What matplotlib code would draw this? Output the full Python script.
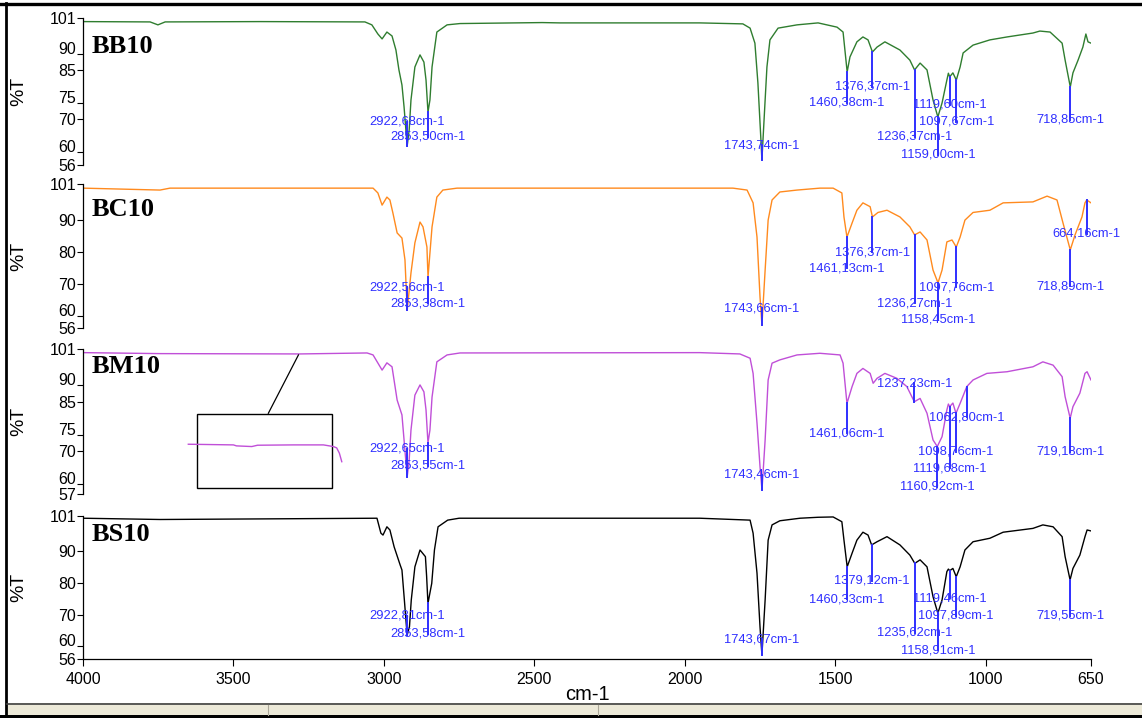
import numpy as np
import matplotlib
matplotlib.use("Agg")
import matplotlib.pyplot as plt
from matplotlib.lines import Line2D
from matplotlib.patches import Rectangle

W, H = 1142, 718

# ---- spectra (wavenumber cm-1, %T) ----
bb10_wn = [4000, 3777, 3751, 3727, 3412, 3063, 3040, 3020, 3006, 2990, 2973, 2960, 2950, 2940, 2933,
           2922.68, 2916, 2910, 2897, 2880, 2867, 2860, 2853.50, 2847, 2840, 2824, 2790, 2747, 2474, 2415,
           1950, 1807, 1783, 1767, 1757, 1747, 1743.74, 1733, 1727, 1717, 1690, 1627, 1557, 1494, 1474,
           1460.38, 1451, 1428, 1408, 1391, 1376.37, 1361, 1335, 1285, 1252, 1236.37, 1218, 1195, 1175,
           1159.00, 1145, 1129, 1124, 1119.60, 1109, 1097.67, 1085, 1075, 1042, 986, 929, 843, 820, 786,
           746, 736, 718.85, 710, 693, 677, 667, 660, 650]
bb10_t = [99.9, 99.8, 98.9, 99.8, 99.9, 99.8, 98.9, 96.1, 94.6, 96.7, 95.5, 91.2, 85.1, 80.5, 73.8,
          61.8, 66.7, 75.9, 86.0, 89.7, 87.5, 82.0, 72.2, 75.9, 86.0, 96.7, 98.9, 99.3, 99.6, 99.5,
          99.5, 99.2, 97.9, 93.3, 81.1, 63.7, 57.5, 75.9, 86.0, 94.3, 97.9, 98.9, 99.5, 98.2, 96.7,
          84.5, 89.1, 93.7, 95.2, 94.3, 90.6, 92.1, 93.7, 91.2, 88.1, 85.1, 87.2, 85.1, 75.9,
          70.7, 75.0, 82.0, 84.1, 83.0, 84.2, 82.0, 86.0, 90.3, 92.7, 94.3, 95.2, 96.4, 97.0, 96.7,
          93.3, 88.1, 79.9, 84.2, 88.1, 92.1, 96.1, 93.7, 93.3]

bc10_wn = [4000, 3744, 3711, 3036, 3020, 3006, 2990, 2980, 2970, 2956, 2940, 2930, 2922.56, 2910, 2897,
           2880, 2870, 2857, 2853.38, 2840, 2824, 2804, 2757, 1840, 1793, 1773, 1760, 1750, 1743.66, 1733,
           1723, 1710, 1684, 1627, 1551, 1507, 1478, 1471, 1461.13, 1444, 1428, 1408, 1384, 1376.37,
           1358, 1328, 1285, 1252, 1236.27, 1218, 1195, 1175, 1158.45, 1145, 1129, 1112, 1097.76, 1085,
           1069, 1042, 986, 942, 843, 796, 763, 743, 718.89, 703, 680, 670, 664.16, 650]
bc10_t = [99.8, 99.2, 99.8, 99.8, 98.3, 94.5, 97.0, 96.1, 92.0, 85.8, 84.2, 77.4, 61.7, 73.3, 82.7,
          89.2, 87.7, 81.4, 72.0, 87.7, 97.0, 99.2, 99.8, 99.8, 99.2, 95.2, 84.5, 65.8, 57.0, 74.2,
          89.8, 96.1, 98.6, 99.2, 99.8, 99.8, 98.3, 90.8, 84.5, 88.9, 92.9, 95.2, 94.0, 90.8,
          92.2, 92.9, 90.8, 87.7, 85.2, 86.1, 83.6, 74.2, 70.2, 74.2, 83.0, 83.6, 81.4, 84.5,
          89.8, 92.2, 92.9, 95.2, 95.5, 97.3, 96.1, 88.9, 80.5, 85.2, 90.8, 95.2, 96.1, 95.2]

bm10_wn = [4000, 3744, 3279, 3056, 3036, 3006, 2990, 2973, 2956, 2940, 2933, 2922.65, 2916, 2910, 2897,
           2880, 2867, 2860, 2853.55, 2847, 2840, 2824, 2790, 2747, 1950, 1817, 1783, 1773, 1760, 1750,
           1743.46, 1733, 1723, 1710, 1684, 1627, 1551, 1484, 1474, 1461.06, 1444, 1428, 1408, 1384,
           1374, 1361, 1335, 1295, 1262, 1237.23, 1218, 1195, 1175, 1160.92, 1145, 1129, 1124, 1119.68,
           1109, 1098.76, 1085, 1062.80, 1042, 996, 929, 843, 810, 776, 746, 736, 719.18, 710, 687, 670,
           663, 650]
bm10_t = [99.9, 99.6, 99.5, 99.8, 99.2, 94.6, 96.8, 95.6, 85.5, 81.0, 73.4, 62.2, 67.3, 76.4, 87.0,
          90.1, 88.0, 82.5, 72.5, 76.4, 86.4, 97.1, 99.2, 99.8, 99.9, 99.5, 98.2, 93.6, 78.5, 65.3,
          58.2, 73.4, 91.6, 96.7, 97.7, 99.2, 99.7, 99.2, 96.7, 84.5, 89.6, 93.6, 95.1, 93.6,
          90.6, 92.1, 93.6, 92.1, 89.6, 85.0, 86.0, 81.5, 73.4, 71.4, 74.4, 82.5, 84.3, 83.5,
          84.6, 81.5, 84.5, 89.6, 91.6, 93.6, 94.1, 95.6, 97.1, 96.1, 92.6, 86.5, 80.0, 83.5, 87.6, 93.6,
          94.1, 91.6]

bs10_wn = [4000, 3744, 3023, 3010, 3003, 2990, 2980, 2966, 2946, 2940, 2932, 2922.81, 2915, 2909, 2897,
           2880, 2862, 2858, 2853.58, 2841, 2832, 2820, 2788, 2750, 1950, 1783, 1773, 1760, 1750, 1743.67,
           1733, 1723, 1710, 1684, 1617, 1557, 1507, 1478, 1471, 1460.33, 1444, 1428, 1408, 1391,
           1379.12, 1361, 1328, 1285, 1252, 1235.62, 1218, 1195, 1175, 1158.91, 1145, 1129, 1124,
           1119.46, 1109, 1097.89, 1085, 1069, 1042, 986, 942, 843, 810, 776, 746, 736, 719.55, 710,
           687, 670, 663, 650]
bs10_t = [100.3, 99.9, 100.3, 95.6, 95.0, 97.6, 96.6, 91.3, 85.6, 84.0, 74.6, 63.5, 66.2, 74.6, 85.0,
          90.3, 88.2, 82.0, 73.5, 79.8, 90.3, 97.6, 99.7, 100.3, 100.3, 99.7, 95.6, 83.0, 66.1, 57.3,
          74.6, 93.4, 98.2, 99.5, 100.3, 100.6, 100.7, 99.2, 93.4, 85.0, 89.3, 93.4, 95.9, 95.0,
          91.9, 92.9, 94.5, 91.9, 88.7, 86.1, 87.2, 85.0, 75.6, 70.4, 74.6, 83.5, 84.3,
          83.8, 84.5, 81.9, 85.0, 90.3, 92.9, 94.0, 95.9, 97.1, 98.2, 97.6, 94.5, 88.2, 80.9, 84.5,
          88.7, 94.5, 96.6, 96.3]

# ---- peak picks: wavenumber and height of the label ----
bb10_peaks = [2922.68, 2853.50, 1743.74, 1460.38, 1376.37, 1236.37, 1159.00, 1119.60, 1097.67, 718.85]
bb10_label_t = [69.2, 64.6, 62.1, 75.0, 79.9, 64.6, 59.1, 74.4, 69.2, 69.8]

bc10_peaks = [2922.56, 2853.38, 1743.66, 1461.13, 1376.37, 1236.27, 1158.45, 1097.76, 718.89, 664.16]
bc10_label_t = [68.9, 63.9, 62.3, 74.8, 79.8, 63.9, 58.6, 68.9, 69.2, 85.5]

bm10_peaks = [2922.65, 2853.55, 1743.46, 1461.06, 1237.23, 1160.92, 1119.68, 1098.76, 1062.80, 719.18]
bm10_label_t = [70.7, 65.5, 62.8, 75.4, 90.6, 59.2, 64.8, 69.8, 80.3, 69.8]

bs10_peaks = [2922.81, 2853.58, 1743.67, 1460.33, 1379.12, 1235.62, 1158.91, 1119.46, 1097.89, 719.55]
bs10_label_t = [69.6, 63.9, 62.2, 74.8, 80.6, 64.3, 58.8, 75.1, 69.6, 69.6]

# y ticks per panel
bb10_yticks = [101, 90, 85, 75, 70, 60, 56]
bc10_yticks = [101, 90, 80, 70, 60, 56]
bm10_yticks = [101, 90, 85, 75, 70, 60, 57]
bs10_yticks = [101, 90, 80, 70, 60, 56]

x_ticks = [4000, 3500, 3000, 2500, 2000, 1500, 1000, 650]

# zoomed baseline piece shown in the BM10 box
inset_wn = [3650, 3500, 3490, 3439, 3420, 3301, 3201, 3168, 3157, 3148, 3140]
inset_t = [72.1, 71.9, 71.6, 71.4, 71.8, 71.9, 71.9, 71.4, 71.0, 69.4, 66.8]

BLUE = "#2f2fff"
SANS = "Liberation Sans"


def px_box(top, bottom, left=83, right=1091):
    return [left / W, 1 - bottom / H, (right - left) / W, (bottom - top) / H]


def draw_panel(fig, box, wn, t, color, name, name_t, yticks, ylow, raised, peaks, label_t, last=False):
    ax = fig.add_axes(box)
    ax.plot(wn, t, color=color, lw=1.0, zorder=2)
    ax.set_xlim(4000, 650)
    ax.set_ylim(ylow, 101)
    for s in ["top", "right"]:
        ax.spines[s].set_visible(False)
    if not last:
        ax.spines["bottom"].set_visible(False)
        ax.set_xticks([])
    else:
        ax.set_xticks(x_ticks)
        ax.set_xticklabels([str(v) for v in x_ticks], fontsize=11.5, family=SANS)
        ax.tick_params(axis="x", length=5, width=0.8, pad=4)
    ax.spines["left"].set_linewidth(0.9)
    ax.spines["bottom"].set_linewidth(0.9)
    ax.set_yticks(yticks)
    ax.set_yticklabels([str(v) for v in yticks], fontsize=11.5, family=SANS)
    ax.tick_params(axis="y", length=4, width=0.8, pad=1)
    # crowded labels sit on top of their tick
    for lab, v in zip(ax.get_yticklabels(), yticks):
        if v in raised:
            lab.set_verticalalignment("baseline")

    ax.text(3972, name_t, name, fontsize=19, fontweight="bold", family="Liberation Serif",
            ha="left", va="center")

    # peak markers
    xs = np.array(wn)[::-1]
    ys = np.array(t)[::-1]
    for p, lt in zip(peaks, label_t):
        ct = np.interp(p, xs, ys)
        ax.plot([p, p], [ct, lt], color=BLUE, lw=1.4, zorder=3, clip_on=False)
        txt = f"{p:.2f}".replace(".", ",") + "cm-1"
        ax.text(p, lt, txt, color=BLUE, fontsize=9.3, family=SANS, ha="center", va="center",
                zorder=4, clip_on=False)
    return ax


def window_frame(fig):
    # black frame of the window and the status bar below the plot
    fig.add_artist(Line2D([0, 1], [1 - 3.8 / H] * 2, color="black", lw=2.4, transform=fig.transFigure))
    fig.add_artist(Line2D([6.2 / W] * 2, [0, 1 - 2.5 / H], color="black", lw=2.0, transform=fig.transFigure))
    fig.add_artist(Rectangle((7 / W, 0), 1, 15 / H, facecolor="#ece9d8", edgecolor="none",
                             transform=fig.transFigure))
    fig.add_artist(Line2D([7 / W, 1], [1 - 703.5 / H] * 2, color="#404040", lw=1.2, transform=fig.transFigure))
    fig.add_artist(Rectangle((0, 0), 1, 3.5 / H, facecolor="black", edgecolor="none",
                             transform=fig.transFigure))
    for sx in [268, 598]:
        fig.add_artist(Line2D([sx / W] * 2, [3.5 / H, 13 / H], color="#aca899", lw=0.8,
                              transform=fig.transFigure))


def main():
    fig = plt.figure(figsize=(W / 100, H / 100), dpi=100)
    fig.patch.set_facecolor("white")

    draw_panel(fig, px_box(18, 165), bb10_wn, bb10_t, "#2f7d2f", "BB10", 92.4, bb10_yticks, 56,
               {90, 75, 60}, bb10_peaks, bb10_label_t)
    draw_panel(fig, px_box(184.3, 328.3), bc10_wn, bc10_t, "#ff8a1e", "BC10", 93.0, bc10_yticks, 56,
               {60}, bc10_peaks, bc10_label_t)
    ax3 = draw_panel(fig, px_box(349, 494), bm10_wn, bm10_t, "#c04fd8", "BM10", 95.8, bm10_yticks, 57,
                     {90, 75, 60}, bm10_peaks, bm10_label_t)
    draw_panel(fig, px_box(516, 659), bs10_wn, bs10_t, "black", "BS10", 95.3, bs10_yticks, 56,
               {60}, bs10_peaks, bs10_label_t, last=True)

    # inset box with the enlarged baseline
    ax3.add_patch(Rectangle((3622, 58.7), 3171 - 3622, 81.2 - 58.7, fill=False, edgecolor="black", lw=1.0))
    ax3.plot([3384, 3284], [81.5, 99.2], color="black", lw=0.9)
    ax3.plot(inset_wn, inset_t, color="#c04fd8", lw=1.0)

    for yc in [91.5, 256.3, 421.5, 587.5]:
        fig.text(19 / W, 1 - yc / H, "%T", rotation=90, fontsize=14, family=SANS, ha="center", va="center")
    fig.text(587 / W, 1 - 695 / H, "cm-1", fontsize=14.5, family=SANS, ha="center", va="center")

    window_frame(fig)
    fig.savefig("out.png", dpi=100)


if __name__ == "__main__":
    main()
